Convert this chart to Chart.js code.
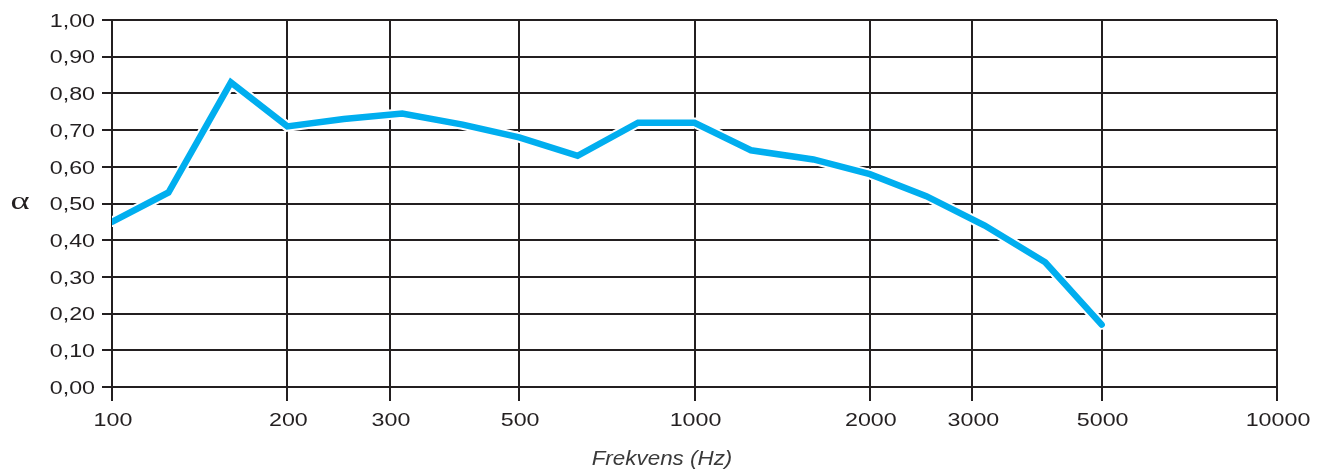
<!DOCTYPE html>
<html>
<head>
<meta charset="utf-8">
<script src="https://cdn.jsdelivr.net/npm/chart.js@4/dist/chart.umd.min.js"></script>
<style>
  html, body { margin: 0; padding: 0; background: #fff; }
  #wrap { width: 1318px; height: 470px; }
</style>
</head>
<body>
<div id="wrap"><canvas id="myChart" width="1318" height="470"></canvas></div>
<script>
// third-octave band centre frequencies (Hz) and absorption coefficient
const frequencies = [100, 125, 160, 200, 250, 315, 400, 500, 630, 800, 1000, 1250, 1600, 2000, 2500, 3150, 4000, 5000];
const alphaValues = [0.45, 0.53, 0.83, 0.71, 0.73, 0.745, 0.715, 0.68, 0.63, 0.72, 0.72, 0.645, 0.62, 0.58, 0.52, 0.44, 0.34, 0.17];
const xTickValues = [100, 200, 300, 500, 1000, 2000, 3000, 5000, 10000];

const lineColor = "#00AEEF";
const gridColor = "#231F20";
const textColor = "#231F20";
const points = frequencies.map((f, i) => ({ x: f, y: alphaValues[i] }));

const formatAlpha = (v) => v.toFixed(2).replace(".", ",");

// draws text squeezed wider than the font's natural width
function drawWide(c, text, x, y, stretch, align) {
  c.save();
  c.translate(x, y);
  c.scale(stretch, 1);
  c.textAlign = align;
  c.fillText(text, 0, 0);
  c.restore();
}

// tick labels and axis titles are drawn by hand (wide lettering, upright α)
const wideLabels = {
  id: "wideLabels",
  afterDraw(chart) {
    const { ctx, chartArea, scales } = chart;
    ctx.save();
    ctx.fillStyle = textColor;
    ctx.textBaseline = "alphabetic";
    ctx.font = "18.6px 'Liberation Sans'";

    scales.y.ticks.forEach((t) => {
      const y = scales.y.getPixelForValue(t.value);
      drawWide(ctx, formatAlpha(t.value), 95, y + 6.7, 1.25, "right");
    });
    scales.x.ticks.forEach((t) => {
      const x = scales.x.getPixelForValue(t.value);
      drawWide(ctx, String(t.value), x + 1, 425.7, 1.25, "center");
    });

    ctx.font = "26px 'Liberation Serif'";
    drawWide(ctx, "α", 20, (chartArea.top + chartArea.bottom) / 2 + 5, 1.4, "center");

    ctx.fillStyle = "#3A3A3A";
    ctx.font = "italic 20px 'Liberation Sans'";
    drawWide(ctx, "Frekvens (Hz)", 662, 465, 1.12, "center");
    ctx.restore();
  },
};

const ctx = document.getElementById("myChart");

new Chart(ctx, {
  type: "line",
  data: {
    datasets: [
      {
        data: points,
        borderColor: lineColor,
        borderWidth: 6.5,
        borderCapStyle: "round",
        borderJoinStyle: "miter",
        pointRadius: 0,
        tension: 0,
        order: 1,
      },
      {
        // white halo under the curve
        data: points,
        borderColor: "#FFFFFF",
        borderWidth: 10.5,
        borderCapStyle: "round",
        borderJoinStyle: "miter",
        pointRadius: 0,
        tension: 0,
        order: 2,
      },
    ],
  },
  options: {
    responsive: false,
    animation: false,
    layout: { padding: { left: 0, right: 41, top: 20, bottom: 0 } },
    plugins: {
      legend: { display: false },
      tooltip: { enabled: false },
    },
    scales: {
      x: {
        type: "logarithmic",
        min: 100,
        max: 10000,
        afterFit(scale) {
          scale.height = 83;
        },
        afterBuildTicks(scale) {
          scale.ticks = xTickValues.map((v) => ({ value: v }));
        },
        ticks: { display: false, autoSkip: false },
        grid: {
          color: gridColor,
          lineWidth: 2,
          tickLength: 14,
          tickColor: gridColor,
          tickWidth: 2,
        },
        border: { color: gridColor, width: 2 },
      },
      y: {
        min: 0,
        max: 1,
        afterFit(scale) {
          scale.width = 112;
        },
        ticks: { display: false, stepSize: 0.1 },
        grid: {
          color: gridColor,
          lineWidth: 2,
          tickLength: 10,
          tickColor: gridColor,
          tickWidth: 2,
        },
        border: { color: gridColor, width: 2 },
      },
    },
  },
  plugins: [wideLabels],
});
</script>
</body>
</html>
